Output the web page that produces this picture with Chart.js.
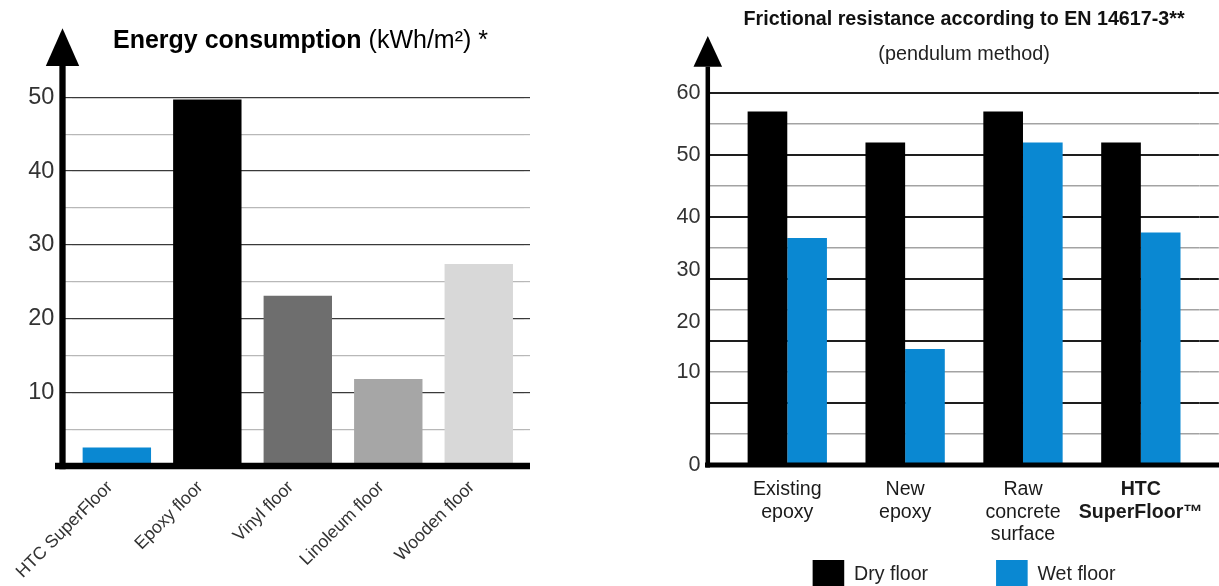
<!DOCTYPE html>
<html>
<head>
<meta charset="utf-8">
<title>Energy consumption and frictional resistance</title>
<script src="https://cdn.jsdelivr.net/npm/chart.js@4.4.0/dist/chart.umd.min.js"></script>
<style>
  html, body { margin: 0; padding: 0; background: #fff; overflow: hidden; }
  #energy { position: absolute; left: 0; top: 0; }
  #friction { position: absolute; left: 600px; top: 0; }
</style>
</head>
<body>
<canvas id="energy" width="560" height="586"></canvas>
<canvas id="friction" width="619" height="663"></canvas>
<script>
// left chart: energy consumption per floor type
var floorTypes = ['HTC SuperFloor', 'Epoxy floor', 'Vinyl floor', 'Linoleum floor', 'Wooden floor'];
var energyValues = [2.5, 49.7, 23.1, 11.8, 27.4];
var energyTickLabels = [10, 20, 30, 40, 50];
var energyTitle = 'Energy consumption';
var energyUnit = ' (kWh/m²) *';

// right chart: frictional resistance, dry vs wet
var surfaces = [['Existing', 'epoxy'], ['New', 'epoxy'], ['Raw', 'concrete', 'surface'], ['HTC', 'SuperFloor™']];
var dryFloor = [57, 52, 57, 52];
var wetFloor = [36.6, 18.7, 52, 37.5];
// the labels sit where the original figure prints them
var frictionTickValues = [0, 15, 23, 31.5, 40, 50, 60];
var frictionTickLabels = ['0', '10', '20', '30', '40', '50', '60'];
var frictionTitle = 'Frictional resistance according to EN 14617-3**';
var frictionSubtitle = '(pendulum method)';

Chart.defaults.font.family = "'Liberation Sans', Arial, Helvetica, sans-serif";

// title with a bold and a regular part on one line
var richTitle = {
    id: 'richTitle',
    afterDraw: function(chart, args, opts) {
        var ctx = chart.ctx;
        var x = opts.x;
        ctx.save();
        ctx.fillStyle = opts.color;
        ctx.textBaseline = 'alphabetic';
        opts.runs.forEach(function(run) {
            ctx.font = run.font;
            ctx.fillText(run.text, x, opts.y);
            x += ctx.measureText(run.text).width;
        });
        ctx.restore();
    }
};

// thick axes with an arrow head on the value axis
var axisArrows = {
    id: 'axisArrows',
    afterDraw: function(chart, args, opts) {
        var ctx = chart.ctx;
        var area = chart.chartArea;
        ctx.save();
        ctx.fillStyle = '#000';
        ctx.strokeStyle = '#000';
        ctx.lineWidth = opts.width;
        ctx.beginPath();
        ctx.moveTo(opts.x, area.bottom + opts.baseWidth / 2);
        ctx.lineTo(opts.x, opts.arrowBase);
        ctx.stroke();
        ctx.beginPath();
        ctx.moveTo(opts.x, opts.arrowTip);
        ctx.lineTo(opts.x - opts.arrowHalf, opts.arrowBase);
        ctx.lineTo(opts.x + opts.arrowHalf, opts.arrowBase);
        ctx.closePath();
        ctx.fill();
        ctx.lineWidth = opts.baseWidth;
        ctx.beginPath();
        ctx.moveTo(opts.xStart, area.bottom);
        ctx.lineTo(opts.xEnd, area.bottom);
        ctx.stroke();
        ctx.restore();
    }
};

// the legend padding also spaces the items apart, so pull the row back up
// next to the three-line category labels
var legendLift = {
    id: 'legendLift',
    afterLayout: function(chart, args, opts) {
        var legend = chart.legend;
        if (!legend) return;
        legend.top -= opts.lift;
        legend.bottom -= opts.lift;
    }
};

function energyGridColor(ctx) {
    return ctx.tick.value % 10 === 0 ? '#3a3a3a' : '#b8b8b8';
}

function frictionGridColor(ctx) {
    var v = ctx.tick.value;
    if (v % 5 !== 0) return 'rgba(0,0,0,0)';
    return v % 10 === 0 ? '#1e1e1e' : '#a3a3a3';
}

function frictionGridWidth(ctx) {
    return ctx.tick.value % 10 === 0 ? 2 : 1.5;
}

new Chart(document.getElementById('energy'), {
    type: 'bar',
    data: {
        labels: floorTypes,
        datasets: [{
            data: energyValues,
            backgroundColor: ['#0a88d2', '#000000', '#6e6e6e', '#a6a6a6', '#d8d8d8'],
            barPercentage: 0.756,
            categoryPercentage: 1
        }]
    },
    options: {
        responsive: false,
        animation: false,
        layout: { padding: { top: 97.3, right: 30, bottom: 0, left: 0 } },
        plugins: {
            legend: { display: false },
            tooltip: { enabled: false },
            richTitle: {
                x: 113, y: 48.3, color: '#000',
                runs: [
                    { text: energyTitle, font: "bold 25px 'Liberation Sans', Arial, sans-serif" },
                    { text: energyUnit, font: "25px 'Liberation Sans', Arial, sans-serif" }
                ]
            },
            axisArrows: {
                x: 62.5, width: 6.3, arrowTip: 28.3, arrowBase: 66, arrowHalf: 16.7,
                baseWidth: 6.5, xStart: 55, xEnd: 530
            }
        },
        scales: {
            x: {
                grid: { display: false },
                border: { display: false },
                ticks: {
                    minRotation: 45,
                    maxRotation: 45,
                    padding: 3,
                    labelOffset: -7,
                    color: '#333',
                    font: { size: 17.6 }
                },
                afterFit: function(scale) { scale.height = 120; }
            },
            y: {
                min: 0,
                max: 50,
                border: { display: false },
                grid: { color: energyGridColor, lineWidth: 1.2, tickLength: 7 },
                ticks: {
                    stepSize: 5,
                    autoSkip: false,
                    padding: 10.3,
                    color: '#333',
                    font: { size: 23.5 },
                    callback: function(value) {
                        return energyTickLabels.indexOf(value) >= 0 ? String(value) : '';
                    }
                },
                afterFit: function(scale) { scale.width = 71.6; }
            },
            y2: {
                position: 'right',
                min: 0,
                max: 50,
                border: { display: false },
                grid: { drawOnChartArea: false, color: energyGridColor, lineWidth: 1.2, tickLength: 6 },
                ticks: { stepSize: 5, display: false }
            }
        }
    },
    plugins: [richTitle, axisArrows]
});

new Chart(document.getElementById('friction'), {
    type: 'bar',
    data: {
        labels: surfaces,
        datasets: [{
            label: 'Dry floor',
            data: dryFloor,
            backgroundColor: '#000000',
            barPercentage: 1,
            categoryPercentage: 0.673
        }, {
            label: 'Wet floor',
            data: wetFloor,
            backgroundColor: '#0a88d2',
            barPercentage: 1,
            categoryPercentage: 0.673
        }]
    },
    options: {
        responsive: false,
        animation: false,
        layout: { padding: 0 },
        plugins: {
            title: {
                display: true,
                text: frictionTitle,
                fullSize: false,
                color: '#111',
                font: { size: 19.7, weight: 'bold' },
                padding: { top: 8, bottom: 0 }
            },
            subtitle: {
                display: true,
                text: frictionSubtitle,
                fullSize: false,
                color: '#222',
                font: { size: 19.8 },
                padding: { top: 11, bottom: 26.6 }
            },
            legend: {
                position: 'bottom',
                fullSize: false,
                labels: { boxWidth: 31.6, boxHeight: 30, padding: 68, color: '#222', font: { size: 19.6 } }
            },
            legendLift: { lift: 63 },
            tooltip: { enabled: false },
            axisArrows: {
                x: 107.8, width: 4.5, arrowTip: 36, arrowBase: 66.7, arrowHalf: 14.3,
                baseWidth: 5, xStart: 105, xEnd: 619
            }
        },
        scales: {
            x: {
                grid: { display: false, drawTicks: false },
                border: { display: false },
                ticks: {
                    padding: 13.7,
                    maxRotation: 0,
                    autoSkip: false,
                    color: '#1a1a1a',
                    font: function(ctx) {
                        return { size: 19.6, lineHeight: 1.15, weight: ctx.index === 3 ? 'bold' : 'normal' };
                    }
                },
                afterFit: function(scale) { scale.height = 90; }
            },
            y: {
                min: 0,
                max: 60,
                border: { display: false },
                grid: { color: frictionGridColor, lineWidth: frictionGridWidth, tickLength: 18.35 },
                ticks: {
                    stepSize: 5,
                    autoSkip: false,
                    padding: 9.5,
                    color: '#333',
                    font: { size: 21.6 },
                    callback: function(value) {
                        var i = frictionTickValues.indexOf(value);
                        return i >= 0 ? frictionTickLabels[i] : '';
                    }
                },
                afterBuildTicks: function(scale) {
                    var extra = frictionTickValues.filter(function(v) { return v % 5 !== 0; });
                    scale.ticks = scale.ticks.concat(extra.map(function(v) { return { value: v }; }))
                        .sort(function(a, b) { return a.value - b.value; });
                },
                afterFit: function(scale) { scale.width = 128.35; }
            },
            y2: {
                position: 'right',
                min: 0,
                max: 60,
                border: { display: false },
                grid: { drawOnChartArea: false, color: frictionGridColor, lineWidth: frictionGridWidth, tickLength: 19 },
                ticks: { stepSize: 5, display: false }
            }
        }
    },
    plugins: [axisArrows, legendLift]
});
</script>
</body>
</html>
